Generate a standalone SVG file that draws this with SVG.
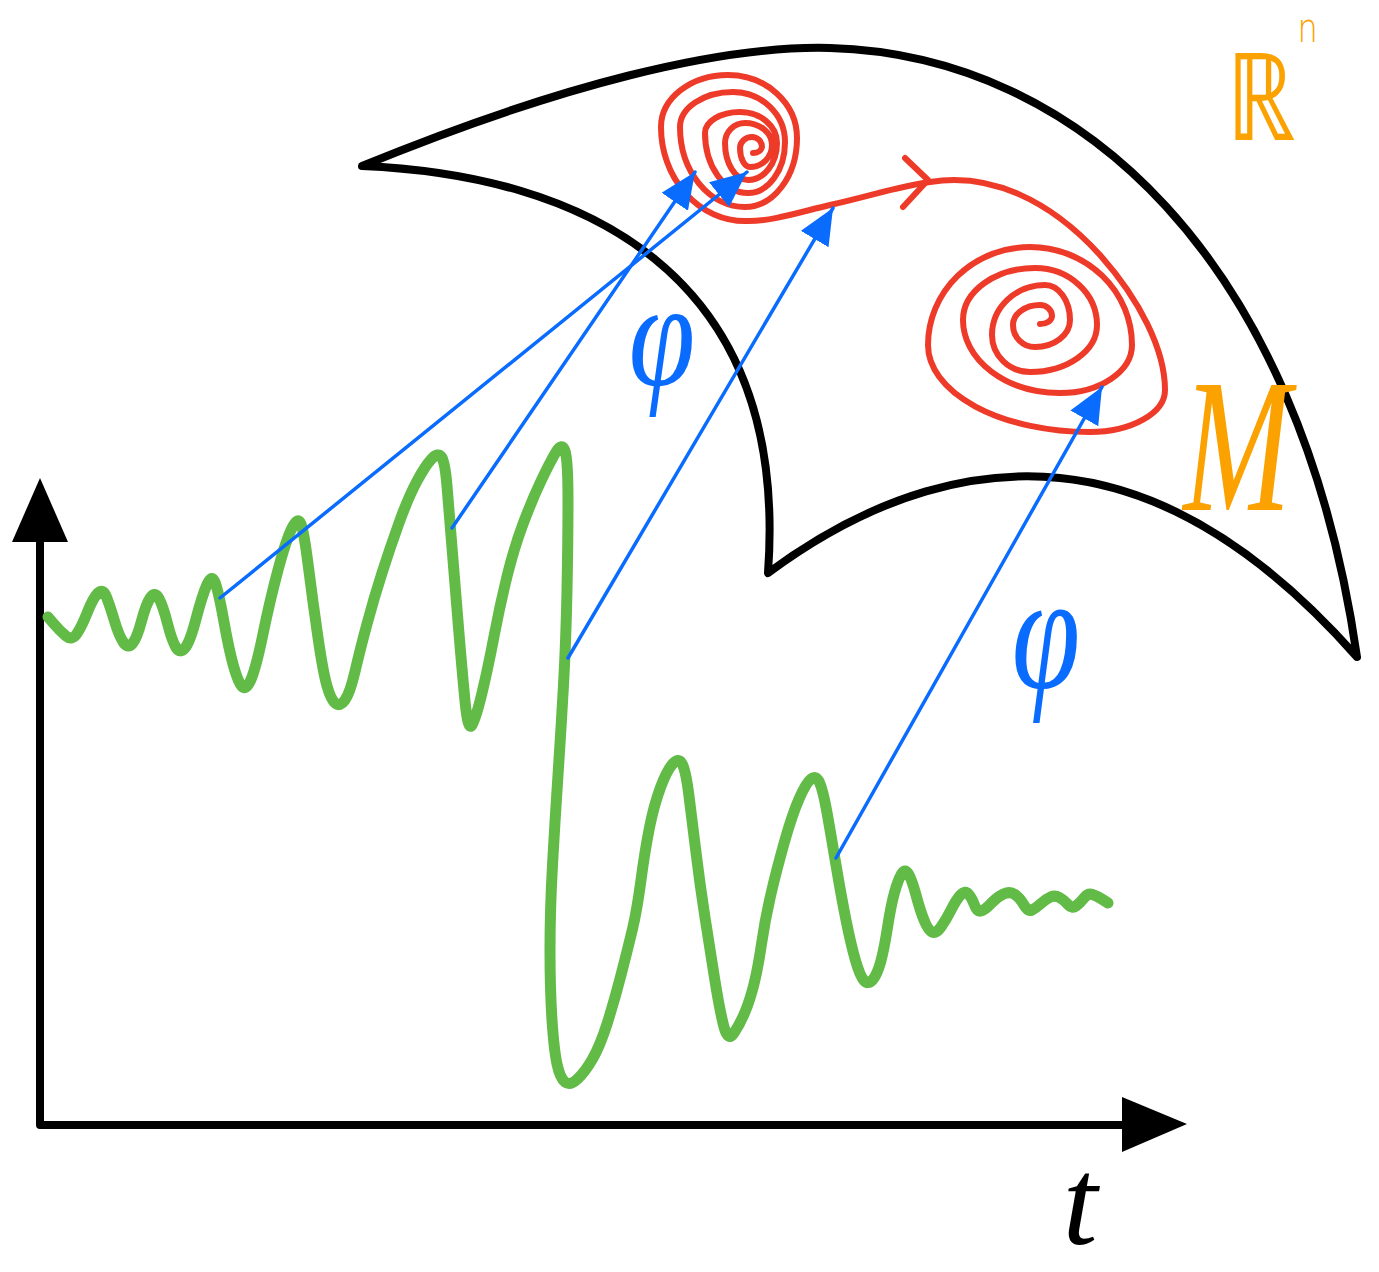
<svg xmlns="http://www.w3.org/2000/svg" width="1379" height="1272" viewBox="0 0 1379 1272">
<style>
.blk{fill:none;stroke:#000;stroke-width:8;stroke-linecap:round;stroke-linejoin:round}
.red{fill:none;stroke:#ee3a28;stroke-width:6;stroke-linecap:round;stroke-linejoin:round}
.grn{fill:none;stroke:#62bb47;stroke-width:11;stroke-linecap:round;stroke-linejoin:round}
.blu{fill:none;stroke:#0a6cff;stroke-width:3.5;stroke-linecap:round}
.phi{fill:#0a6cff;font-family:"Liberation Serif",serif;font-style:italic;text-anchor:middle}
.org{fill:#fba100}
</style>
<defs>
<marker id="ah" markerUnits="userSpaceOnUse" markerWidth="40" markerHeight="34" refX="36" refY="16" orient="auto">
<path d="M0,0 L36,16 L0,32 z" fill="#0a6cff"/>
</marker>
</defs>
<rect width="1379" height="1272" fill="#fff"/>
<g id="manifold">
<path class="blk" d="M362,166 C560,85 720,45 830,48 C1080,55 1300,260 1357,657 C1280,570 1180,490 1060,478 C980,470 880,490 768,573 C790,270 580,175 362,166 Z"/>
</g>
<g id="axes">
<path class="blk" d="M40,1125 L40,540 M40,1125 L1125,1125" stroke-linecap="butt"/>
<polygon points="40,478 68,542 12,542" fill="#000"/>
<polygon points="1187,1124 1122,1097 1122,1152" fill="#000"/>
</g>
<g id="trajectory">
<path class="red" d="M753,153 A9,7 0 0 0 762,147 A10,10 0 0 0 752,137 A12,11 0 0 0 740,148 A10,19 0 0 0 750,167 A22,22 0 0 0 772,145 A27,22 0 0 0 745,123 A20,20 0 0 0 725,143 A23,37 0 0 0 748,180 A29,37 0 0 0 777,143 A37,31 0 0 0 740,112 A35,21 0 0 0 705,133 A43,60 0 0 0 748,193 A37,51 0 0 0 785,142 A52,50 0 0 0 733,92 A53,35 0 0 0 680,127 A65,80 0 0 0 745,207 A52,69 0 0 0 797,138 A69,63 0 0 0 728,75 A67,52 0 0 0 661,127 A84,94 0 0 0 745,221 C770,222 800,212 830,205 C870,196 900,186 930,182 C990,172 1050,200 1100,255 C1140,300 1165,350 1165,390 A75,42 0 0 1 1090,432 A162,87 0 0 1 928,345 A102,98 0 0 1 1030,247 A102,98 0 0 1 1132,345 A72,48 0 0 1 1060,393 A97,73 0 0 1 963,320 A72,52 0 0 1 1035,268 A62,57 0 0 1 1097,325 A67,47 0 0 1 1030,372 A38,37 0 0 1 992,335 A53,50 0 0 1 1045,285 A25,35 0 0 1 1070,320 A35,27 0 0 1 1035,347 A22,22 0 0 1 1013,325 A27,20 0 0 1 1040,305 A12,11 0 0 1 1052,316 A12,8 0 0 1 1040,324"/>
<path class="red" d="M905,158 L928,180 L903,207"/>
</g>
<g id="signal">
<path class="grn" d="M48,617 L54,624 Q60,631 66,636 Q72,641 77,633.5 Q82,626 87.5,612 Q93,598 98,593 Q103,588 106.5,597 Q110,606 114.5,621 Q119,636 123.5,642.5 Q128,649 132.5,643.5 Q137,638 141.5,621 Q146,604 150.5,597.5 Q155,591 159,598.5 Q163,606 167.5,623.5 Q172,641 176,647.5 Q180,654 185,648 Q190,642 196,619 Q202,596 207,584.5 Q212,573 215.5,583.5 Q219,594 224,622 Q229,650 233.5,666 Q238,682 242,686.5 Q246,691 251,679.5 Q256,668 263,634 Q270,600 278,570 Q286,540 292,528 Q298,516 301,524 Q304,532 308.5,567.5 Q313,603 318,637.5 Q323,672 327,686 Q331,700 335.5,703.5 Q340,707 345,700 Q350,693 355,671.5 Q360,650 367,624 Q374,598 382,573 Q390,548 399,523 Q408,498 416.5,482 Q425,466 431.5,459 Q438,452 441.5,457 Q445,462 447,486 Q449,510 452,547.5 Q455,585 458.5,627.5 Q462,670 465,701 Q468,732 472,725 Q476,718 482,693 Q488,668 494,636.5 Q500,605 507,576.5 Q514,548 523,524 Q532,500 541,481 Q550,462 556,452 Q562,442 565,451 Q568,460 568,500 Q568,540 567,590 Q566,640 563.5,685 Q561,730 558,775 Q555,820 552.5,865 Q550,910 550,950 Q550,990 552,1020 Q554,1050 557,1064 Q560,1078 565,1082 Q570,1086 577.5,1079 Q585,1072 592.5,1059 Q600,1046 607,1024 Q614,1002 621,975 Q628,948 632.5,929 Q637,910 641,880 Q645,850 649.5,827.5 Q654,805 660.5,787.5 Q667,770 673,763.5 Q679,757 682.5,764.5 Q686,772 689,796 Q692,820 696,852.5 Q700,885 705,917.5 Q710,950 715,981 Q720,1012 724,1027 Q728,1042 734,1033 Q740,1024 745,1012 Q750,1000 754,984 Q758,968 761.5,944 Q765,920 770.5,896 Q776,872 784,843.5 Q792,815 799,799 Q806,783 811,779 Q816,775 819.5,782.5 Q823,790 827,812.5 Q831,835 836,865 Q841,895 846,920 Q851,945 855.5,960.5 Q860,976 864,980.5 Q868,985 872.5,980 Q877,975 880.5,962.5 Q884,950 887.5,927.5 Q891,905 894.5,892.5 Q898,880 901.5,874 Q905,868 908.5,874 Q912,880 916,895 Q920,910 924,920 Q928,930 932,932 Q936,934 941,927 Q946,920 951,910 Q956,900 960.5,895 Q965,890 968.5,894 Q972,898 974.5,905 Q977,912 981,911 Q985,910 991,903.5 Q997,897 1003.5,894 Q1010,891 1015,894.5 Q1020,898 1024,905 Q1028,912 1032,910 Q1036,908 1041,903.5 Q1046,899 1050.5,897 Q1055,895 1059.5,897.5 Q1064,900 1068,904.5 Q1072,909 1076,906 Q1080,903 1084,898 Q1088,893 1092.5,894.5 Q1097,896 1102.5,899.5 L1108,903"/>
</g>
<g id="connectors">
<line class="blu" x1="220" y1="598" x2="747" y2="172" marker-end="url(#ah)"/>
<line class="blu" x1="452" y1="528" x2="695" y2="172" marker-end="url(#ah)"/>
<line class="blu" x1="568" y1="658" x2="833" y2="208" marker-end="url(#ah)"/>
<line class="blu" x1="836" y1="858" x2="1102" y2="387" marker-end="url(#ah)"/>
</g>
<g id="label-phi-1"><text class="phi" font-size="150" transform="translate(662,385) scale(0.8,1)">φ</text></g>
<g id="label-phi-2"><text class="phi" font-size="165" transform="translate(1046,688) scale(0.75,1)">φ</text></g>
<g id="label-Rn">
<text class="org" font-family="DejaVu Sans, sans-serif" font-weight="200" font-size="122" transform="translate(1226,140) scale(0.8,1)">ℝ<tspan font-size="40" dx="2" dy="-98">n</tspan></text>
</g>
<g id="label-M"><text class="org" font-family="Liberation Serif, serif" font-style="italic" font-size="190" transform="translate(1237,510) scale(0.68,1)" text-anchor="middle">M</text></g>
<g id="label-t"><text font-family="Liberation Serif, serif" font-style="italic" font-size="125" x="1080" y="1244" text-anchor="middle" fill="#000">t</text></g>
</svg>
